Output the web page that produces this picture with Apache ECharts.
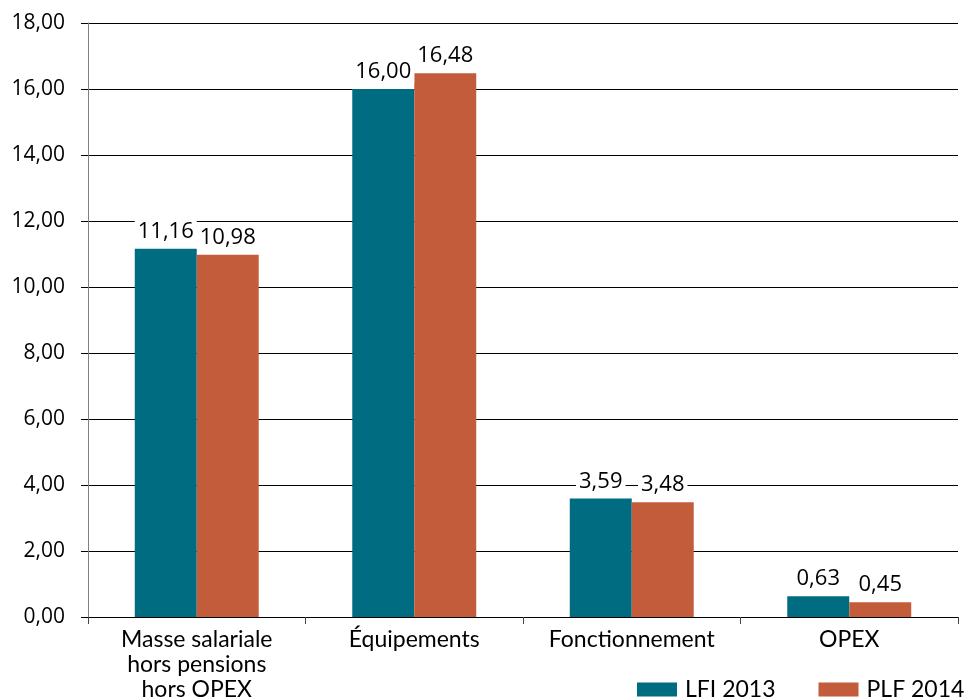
<!DOCTYPE html>
<html><head><meta charset="utf-8">
<script src="https://cdn.jsdelivr.net/npm/echarts@6/dist/echarts.min.js"></script>
<style>html,body{margin:0;padding:0;background:#fff}#c{width:964px;height:699px}</style>
</head><body><div id="c"></div>
<script>
const categories = ["Masse salariale\nhors pensions\nhors OPEX", "Équipements", "Fonctionnement", "OPEX"];
const lfi2013 = [11.16, 16.00, 3.59, 0.63];
const plf2014 = [10.98, 16.48, 3.48, 0.45];
const yTicks = [0, 2, 4, 6, 8, 10, 12, 14, 16, 18];
const fmt = v => Number(v).toFixed(2).replace('.', ',');
const FONT = 'Lato, "DejaVu Sans", sans-serif';
const NUMFONT = '"Open Sans", "DejaVu Sans", sans-serif';
const chart = echarts.init(document.getElementById('c'));
const lbl = {
  show: true, position: 'top', distance: 6,
  formatter: p => fmt(p.value),
  color: '#000', fontSize: 22, fontFamily: NUMFONT,
  backgroundColor: '#fff', padding: [0, 3, 0, 3]
};
chart.setOption({
  animation: false,
  textStyle: { fontFamily: FONT },
  grid: { left: 88, right: 6, top: 23, bottom: 82, containLabel: false, outerBoundsMode: 'none' },
  legend: {
    left: 637, top: 678, width: 340, padding: 0, itemWidth: 40, itemHeight: 14, itemGap: 43,
    icon: 'rect',
    textStyle: { fontSize: 23, color: '#000', fontFamily: FONT, padding: [0, 0, 0, 3] },
    data: ['LFI 2013', 'PLF 2014']
  },
  xAxis: {
    type: 'category', data: categories,
    axisLine: { lineStyle: { color: '#000', width: 1 } },
    axisTick: { show: true, length: 7, lineStyle: { color: '#444' } },
    axisLabel: { fontSize: 23, color: '#000', lineHeight: 25, margin: 10, interval: 0, fontFamily: FONT }
  },
  yAxis: {
    type: 'value', min: yTicks[0], max: yTicks[yTicks.length - 1], interval: 2,
    axisLine: { show: true, lineStyle: { color: '#808080' } },
    axisTick: { show: true, length: 7, lineStyle: { color: '#000' } },
    splitLine: { lineStyle: { color: '#000', width: 1 } },
    axisLabel: { formatter: v => fmt(v), fontSize: 21, color: '#000', margin: 23, fontFamily: NUMFONT }
  },
  series: [
    { name: 'LFI 2013', type: 'bar', data: lfi2013, barGap: '0%', barCategoryGap: '43%',
      itemStyle: { color: '#006C82' }, label: lbl },
    { name: 'PLF 2014', type: 'bar', data: plf2014, barGap: '0%', barCategoryGap: '43%',
      itemStyle: { color: '#C25C3A' }, label: lbl }
  ]
});
</script></body></html>
